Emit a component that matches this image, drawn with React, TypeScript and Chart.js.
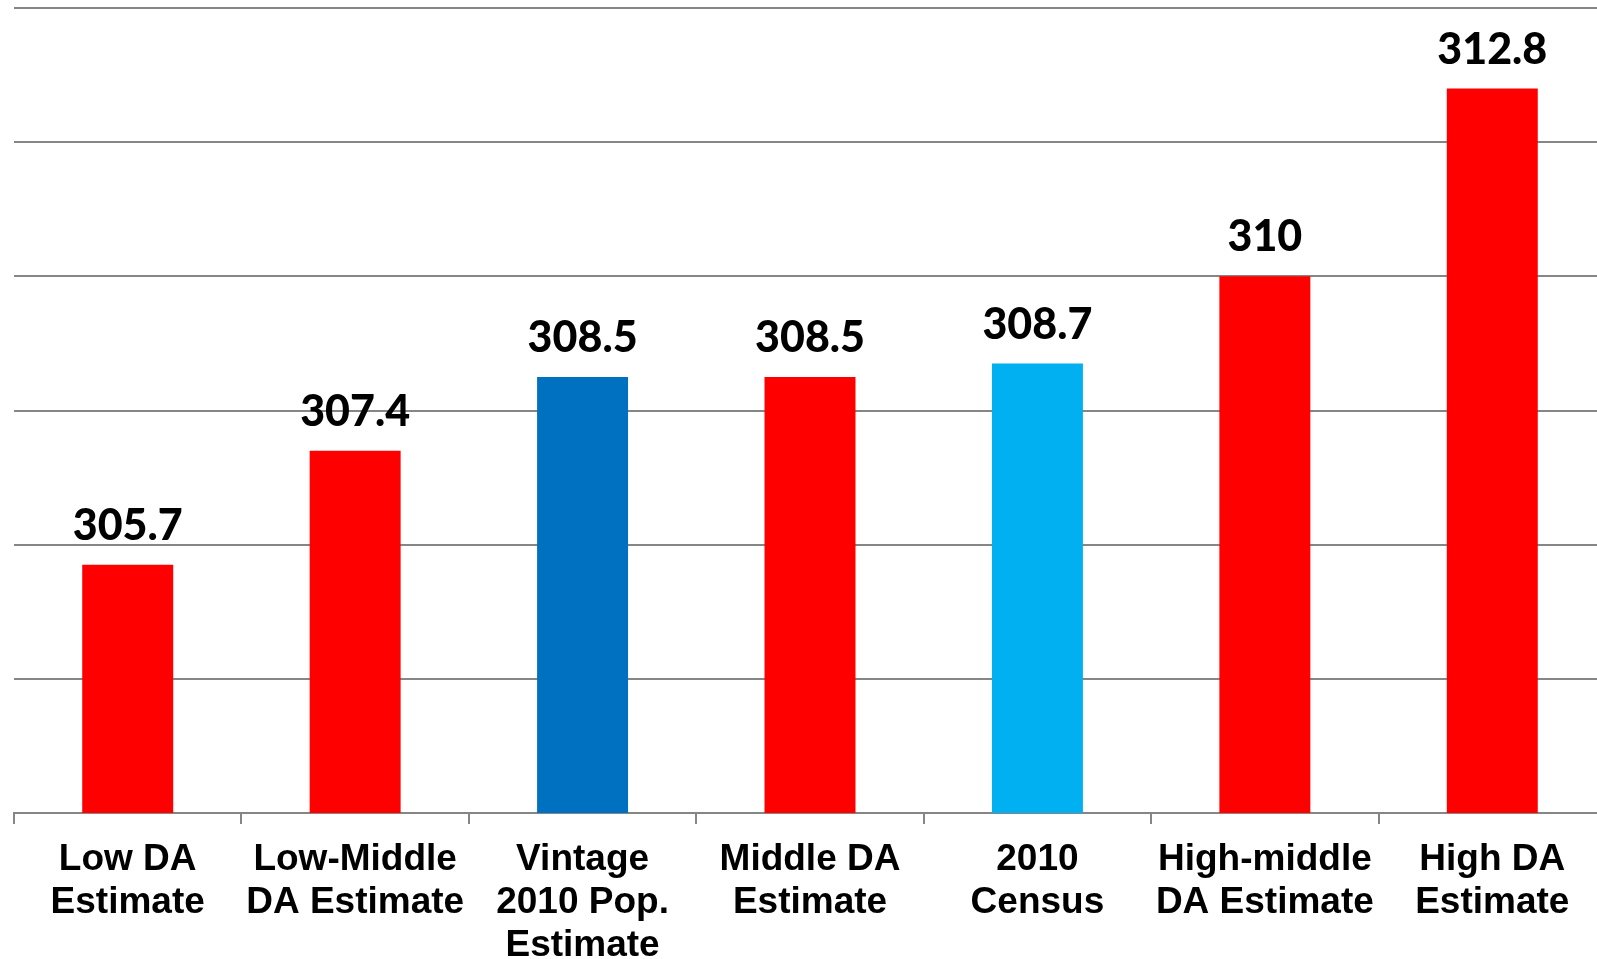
import React, { useEffect, useRef } from "react";
import { Chart, registerables } from "chart.js";

Chart.register(...registerables);

const categories: (string | string[])[] = [
  ["Low DA", "Estimate"],
  ["Low-Middle", "DA Estimate"],
  ["Vintage", "2010 Pop.", "Estimate"],
  ["Middle DA", "Estimate"],
  ["2010", "Census"],
  ["High-middle", "DA Estimate"],
  ["High DA", "Estimate"],
];
const values = [305.7, 307.4, 308.5, 308.5, 308.7, 310, 312.8];
const valueLabels = ["305.7", "307.4", "308.5", "308.5", "308.7", "310", "312.8"];
const barColors = ["#FF0000", "#FF0000", "#0070C0", "#FF0000", "#00B0F0", "#FF0000", "#FF0000"];
const yMin = 302;
const yMax = 314;
const yStep = 2;

const valueLabelPlugin = {
  id: "valueLabels",
  afterDatasetsDraw(chart: any) {
    const ctx = chart.ctx;
    const meta = chart.getDatasetMeta(0);
    ctx.save();
    ctx.fillStyle = "#000000";
    ctx.font = "900 43px Lato";
    ctx.textAlign = "center";
    ctx.textBaseline = "alphabetic";
    meta.data.forEach((bar: any, i: number) => {
      ctx.fillText(valueLabels[i], bar.x, bar.y - 25);
    });
    ctx.restore();
  },
};

export default function App() {
  const ref = useRef<HTMLCanvasElement>(null);
  useEffect(() => {
    if (!ref.current) return;
    const chart = new Chart(ref.current, {
      type: "bar",
      data: {
        labels: categories,
        datasets: [
          {
            data: values,
            backgroundColor: barColors,
            borderWidth: 0,
            barPercentage: 0.4,
            categoryPercentage: 1,
          },
        ],
      },
      options: {
        responsive: false,
        animation: false,
        devicePixelRatio: 1,
        layout: { padding: { left: 14, top: 8, right: 0, bottom: 0 } },
        plugins: {
          legend: { display: false },
          tooltip: { enabled: false },
        },
        scales: {
          x: {
            grid: {
              offset: true,
              drawOnChartArea: false,
              drawTicks: true,
              tickLength: 11,
              color: "#868686",
              lineWidth: 2,
            },
            border: { display: true, color: "#868686", width: 2 },
            ticks: {
              color: "#000000",
              font: { family: "Liberation Sans", weight: "bold", size: 37, lineHeight: "43px" },
              padding: 14,
              maxRotation: 0,
              autoSkip: false,
            },
            afterFit: (scale: any) => {
              scale.height = 146;
            },
          },
          y: {
            min: yMin,
            max: yMax,
            ticks: { display: false, stepSize: yStep },
            grid: { color: "#868686", lineWidth: 2, drawTicks: false },
            border: { display: false },
          },
        },
      },
      plugins: [valueLabelPlugin],
    } as any);
    return () => chart.destroy();
  }, []);
  return (
    <div style={{ position: "absolute", left: 0, top: 0, width: 1597, height: 959, overflow: "hidden", background: "#fff" }}>
      <canvas ref={ref} width={1606} height={959} style={{ display: "block" }} />
    </div>
  );
}
